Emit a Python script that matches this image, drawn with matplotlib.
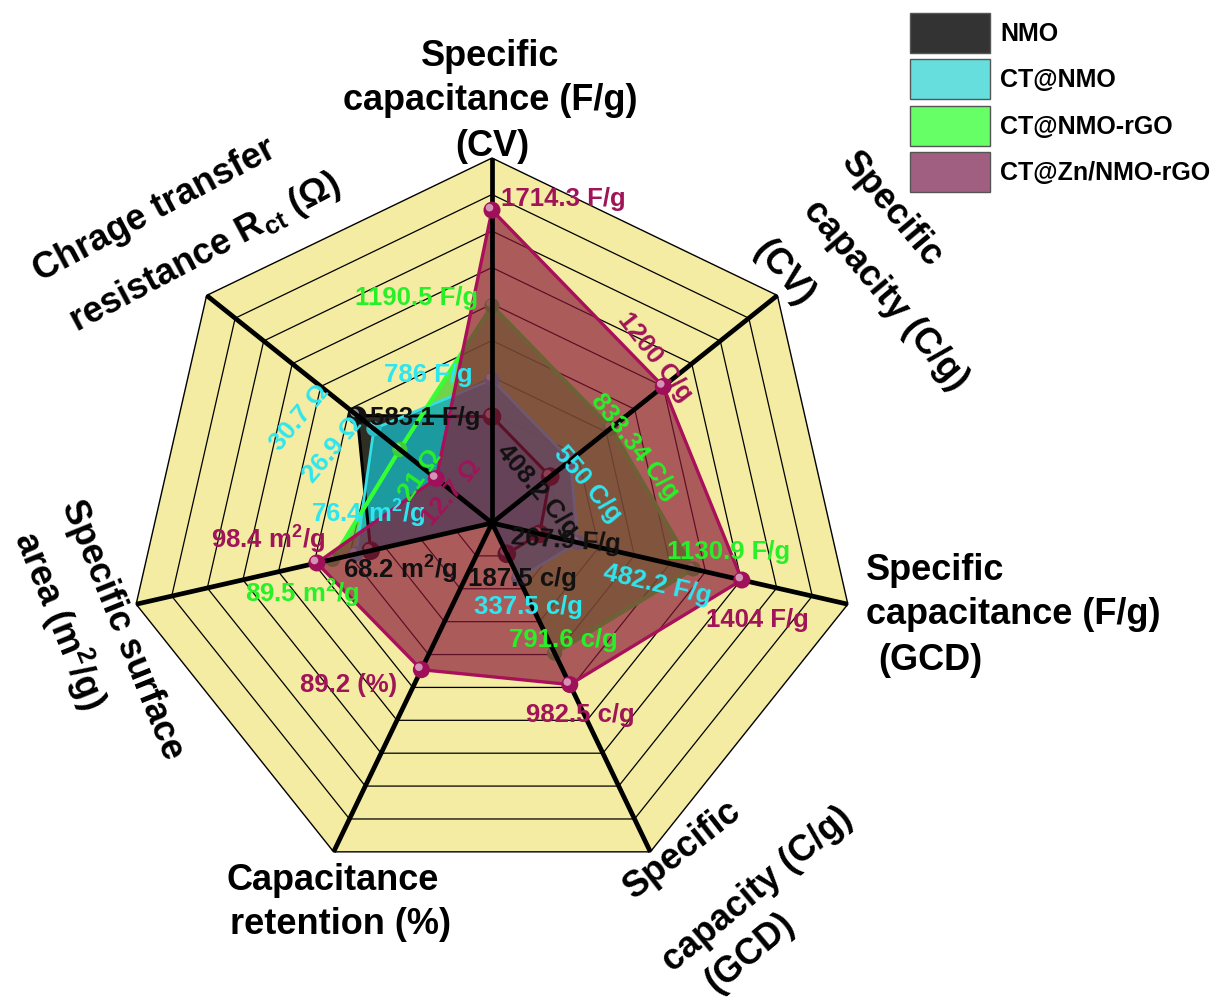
import numpy as np
import matplotlib
matplotlib.use('Agg')
import matplotlib.pyplot as plt
from matplotlib.patches import Polygon, Rectangle

plt.rcParams['font.family'] = ['Liberation Sans', 'DejaVu Sans']
plt.rcParams['font.weight'] = 'bold'
plt.rcParams['mathtext.fontset'] = 'custom'
plt.rcParams['mathtext.rm'] = 'Liberation Sans:bold'
plt.rcParams['mathtext.it'] = 'Liberation Sans:bold'
plt.rcParams['mathtext.bf'] = 'Liberation Sans:bold'

# spokes, clockwise from the top
axis_max = [2000, 2000, 2000, 2000, 200, 200, 65]
units = ['F/g', 'C/g', 'F/g', 'c/g', '(%)', 'm$^2$/g', 'Ω']

materials = ['NMO', 'CT@NMO', 'CT@NMO-rGO', 'CT@Zn/NMO-rGO']
nmo = [583.1, 408.2, 267.9, 187.5, 0, 68.2, 30.7]
ct_nmo = [786, 550, 482.2, 337.5, 0, 76.4, 26.9]
ct_nmo_rgo = [1190.5, 833.34, 1130.9, 791.6, 0, 89.5, 21]
ct_zn_nmo_rgo = [1714.3, 1200, 1404, 982.5, 89.2, 98.4, 12.7]
series = [nmo, ct_nmo, ct_nmo_rgo, ct_zn_nmo_rgo]

# figure pixel geometry
cx, cy, R = 492, 523, 365
n_rings = 10
n_axes = len(axis_max)
angles = np.deg2rad(90 - np.arange(n_axes) * 360 / n_axes)


def to_xy(vals):
    frac = np.asarray(vals, float) / np.asarray(axis_max, float)
    return cx + R * frac * np.cos(angles), cy - R * frac * np.sin(angles)


styles = [
    dict(face='#1e1e1a', alpha=0.92, edge='#000000', lw=2.2, text='#111111', mk='#111111', ms=180),
    dict(face='#1aaeb8', alpha=0.85, edge='#35dde4', lw=2.0, text='#2ee6f0', mk='#2bc0c8', ms=120),
    dict(face='#3dcc2a', alpha=0.72, edge='#33ff33', lw=3.0, text='#28f028', mk='#3bd03b', ms=120),
    dict(face='#8a1838', alpha=0.68, edge='#a8105a', lw=2.4, text='#a01458', mk='#a0105a', ms=150),
]
# fill stacking: rGO web lowest, then NMO, then CT@NMO, Zn-doped web on top
fill_z = [3, 4, 2, 11]

# value label placement (x, y, rotation) per spoke
label_pos = [
    [(425, 418, 0), (537, 490, -50), (566, 541, -4), (522, 579, 0), None, (400, 570, 0), (300, 418, 50)],
    [(428, 375, 0), (588, 484, -50), (657, 585, -13), (528, 607, 0), None, (368, 514, 0), (333, 450, 50)],
    [(417, 298, 0), (635, 447, -52), (729, 552, 0), (563, 640, 0), None, (302, 594, 0), (420, 475, 55)],
    [(563, 199, 0), (655, 357, -52), (757, 620, 0), (580, 715, 0), (349, 685, 0), (268, 540, 0), (452, 493, 50)],
]
# the NMO resistance value is printed in the CT@NMO colour
label_color_override = {(0, 6): styles[1]['text']}

fig = plt.figure(figsize=(12.25, 10.01), dpi=100)
ax = fig.add_axes([0, 0, 1, 1])
ax.set_xlim(0, 1225)
ax.set_ylim(1001, 0)
ax.axis('off')

# heptagon web
ox, oy = cx + R * np.cos(angles), cy - R * np.sin(angles)
ax.add_patch(Polygon(np.column_stack([ox, oy]), closed=True, facecolor='#f3eca2',
                     edgecolor='black', lw=1.0, zorder=1))
for k in range(1, n_rings):
    f = k / n_rings
    ax.add_patch(Polygon(np.column_stack([cx + f * (ox - cx), cy + f * (oy - cy)]),
                         closed=True, fill=False, edgecolor='black', lw=0.9, zorder=1.1))


def draw_markers(xs, ys, vals, st, z):
    keep = np.asarray(vals) > 0
    ax.scatter(xs[keep], ys[keep], s=st['ms'], color=st['mk'], edgecolors='none', zorder=z)
    ax.scatter(xs[keep] - 2.5, ys[keep] - 2.5, s=st['ms'] * 0.2, color='white',
               alpha=0.55, edgecolors='none', zorder=z + 0.1)


for i, (vals, st) in enumerate(zip(series, styles)):
    xs, ys = to_xy(vals)
    z = fill_z[i]
    ax.add_patch(Polygon(np.column_stack([xs, ys]), closed=True, facecolor=st['face'],
                         alpha=st['alpha'], edgecolor='none', zorder=z))
    ax.add_patch(Polygon(np.column_stack([xs, ys]), closed=True, fill=False,
                         edgecolor=st['edge'], lw=st['lw'],
                         zorder=(6 + 0.1 * i) if i < 3 else 11.1))
    # the Zn-doped web covers the other spheres; its own sit on top
    draw_markers(xs, ys, vals, st, 10 if i < 3 else 20)

# spokes
for x1, y1 in zip(ox, oy):
    ax.plot([cx, x1], [cy, y1], color='black', lw=3.4, solid_capstyle='butt', zorder=15)

# value labels
for i, (vals, st) in enumerate(zip(series, styles)):
    for j, v in enumerate(vals):
        pos = label_pos[i][j]
        if pos is None:
            continue
        x, y, rot = pos
        col = label_color_override.get((i, j), st['text'])
        ax.text(x, y, f'{v:g} {units[j]}', color=col, fontsize=18.5, fontweight='bold',
                rotation=rot, rotation_mode='anchor', ha='center', va='center', zorder=25)

# spoke titles
title_lines = [
    [('Specific', 490, 57, 0, 'center'), ('capacitance (F/g)', 490, 101, 0, 'center'),
     ('(CV)', 492, 147, 0, 'center')],
    [('Specific', 892, 210, -50, 'center'), ('capacity (C/g)', 885, 295, -50, 'center'),
     ('(CV)', 783, 273, -50, 'center')],
    [('Specific', 866, 570, 0, 'left'), ('capacitance (F/g)', 866, 615, 0, 'left'),
     ('(GCD)', 878, 660, 0, 'left')],
    [('Specific', 683, 850, 38, 'center'), ('capacity (C/g)', 757, 890, 40, 'center'),
     ('(GCD)', 750, 953, 40, 'center')],
    [('Capacitance', 333, 880, 0, 'center'), ('retention (%)', 340, 925, 0, 'center')],
    [('Specific surface', 122, 630, -68, 'center'), ('area (m$^2$/g)', 60, 620, -68, 'center')],
    [('Chrage transfer', 155, 210, 28, 'center'),
     ('resistance R$_{ct}$ (Ω)', 205, 253, 28, 'center')],
]
for lines in title_lines:
    for txt, x, y, rot, ha in lines:
        ax.text(x, y, txt, fontsize=26, fontweight='bold', color='black', rotation=rot,
                rotation_mode='anchor', ha=ha, va='center', zorder=30)

# legend
legend_colors = ['#333333', '#66dede', '#66ff66', '#a05f80']
for k, (name, col) in enumerate(zip(materials, legend_colors)):
    top = 13 + k * 46.3
    ax.add_patch(Rectangle((910, top), 80, 40, facecolor=col, edgecolor='#555555', lw=1.0,
                           zorder=30))
    ax.text(1000, top + 21, name, fontsize=18, fontweight='bold', ha='left', va='center',
            zorder=30)

fig.savefig('out.png', dpi=100)
